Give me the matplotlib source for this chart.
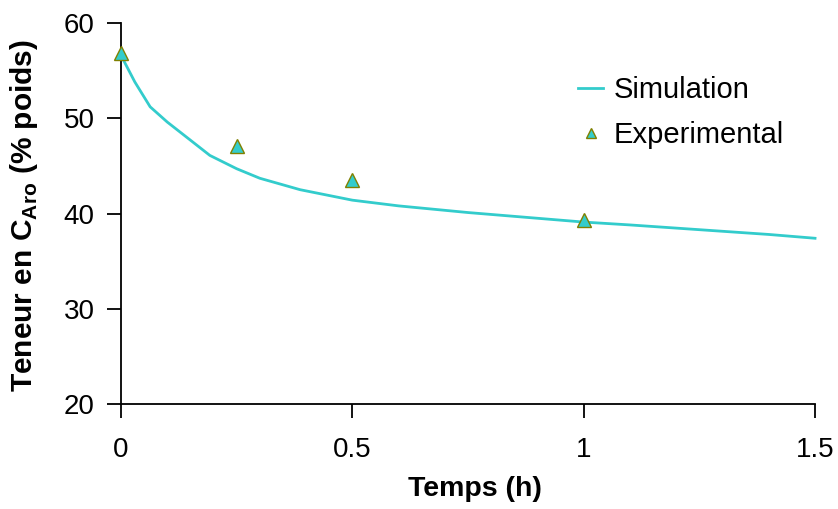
import matplotlib
matplotlib.use("Agg")
import matplotlib.pyplot as plt

plt.rcParams["font.family"] = ["Liberation Sans", "DejaVu Sans"]
plt.rcParams["mathtext.fontset"] = "custom"
plt.rcParams["mathtext.rm"] = "Liberation Sans"
plt.rcParams["mathtext.bf"] = "Liberation Sans:bold"

# simulation curve
sim_t = [0, 0.03, 0.063, 0.1, 0.15, 0.192, 0.25, 0.3, 0.387, 0.5, 0.6,
         0.75, 0.9, 1.0, 1.1, 1.25, 1.4, 1.5]
sim_y = [56.6, 53.8, 51.2, 49.6, 47.7, 46.1, 44.7, 43.7, 42.5, 41.4, 40.8,
         40.1, 39.5, 39.1, 38.8, 38.3, 37.8, 37.4]

# experimental points
exp_t = [0, 0.25, 0.5, 1.0]
exp_y = [56.8, 47.1, 43.5, 39.3]

fig = plt.figure(figsize=(8.38, 5.09), dpi=100)
ax = fig.add_axes([0.1444, 0.2063, 0.8282, 0.7485])

ax.plot(sim_t, sim_y, color="#33CCCC", lw=2.0, label="Simulation", clip_on=False)
ax.plot(exp_t, exp_y, linestyle="none", marker="^", markersize=10,
        markerfacecolor="#33CCCC", markeredgecolor="#808000", markeredgewidth=1,
        label="Experimental", clip_on=False, zorder=3)

ax.set_xlim(0, 1.5)
ax.set_ylim(20, 60)
ax.set_xticks([0, 0.5, 1, 1.5])
ax.set_xticklabels(["0", "0.5", "1", "1.5"])
ax.set_yticks([20, 30, 40, 50, 60])

for s in ["top", "right"]:
    ax.spines[s].set_visible(False)
for s in ["left", "bottom"]:
    ax.spines[s].set_linewidth(1.3)

ax.tick_params(axis="both", labelsize=20, length=10, width=1.3, direction="out")
ax.tick_params(axis="x", pad=14)
ax.tick_params(axis="y", pad=9)

ax.set_xlabel("Temps (h)", fontsize=20.5, fontweight="bold")
ax.set_ylabel(r"Teneur en C$_{\mathbf{Aro}}$ (% poids)", fontsize=21.5, fontweight="bold")
ax.xaxis.set_label_coords(0.51, -0.19)
ax.yaxis.set_label_coords(-0.117, 0.496)

fig.legend(loc="center left", bbox_to_anchor=(0.69, 0.779), frameon=False,
           fontsize=21, handlelength=0.85, handletextpad=0.35, labelspacing=0.6,
           markerscale=0.75, borderpad=0, borderaxespad=0)

plt.savefig("out.png", dpi=100)
